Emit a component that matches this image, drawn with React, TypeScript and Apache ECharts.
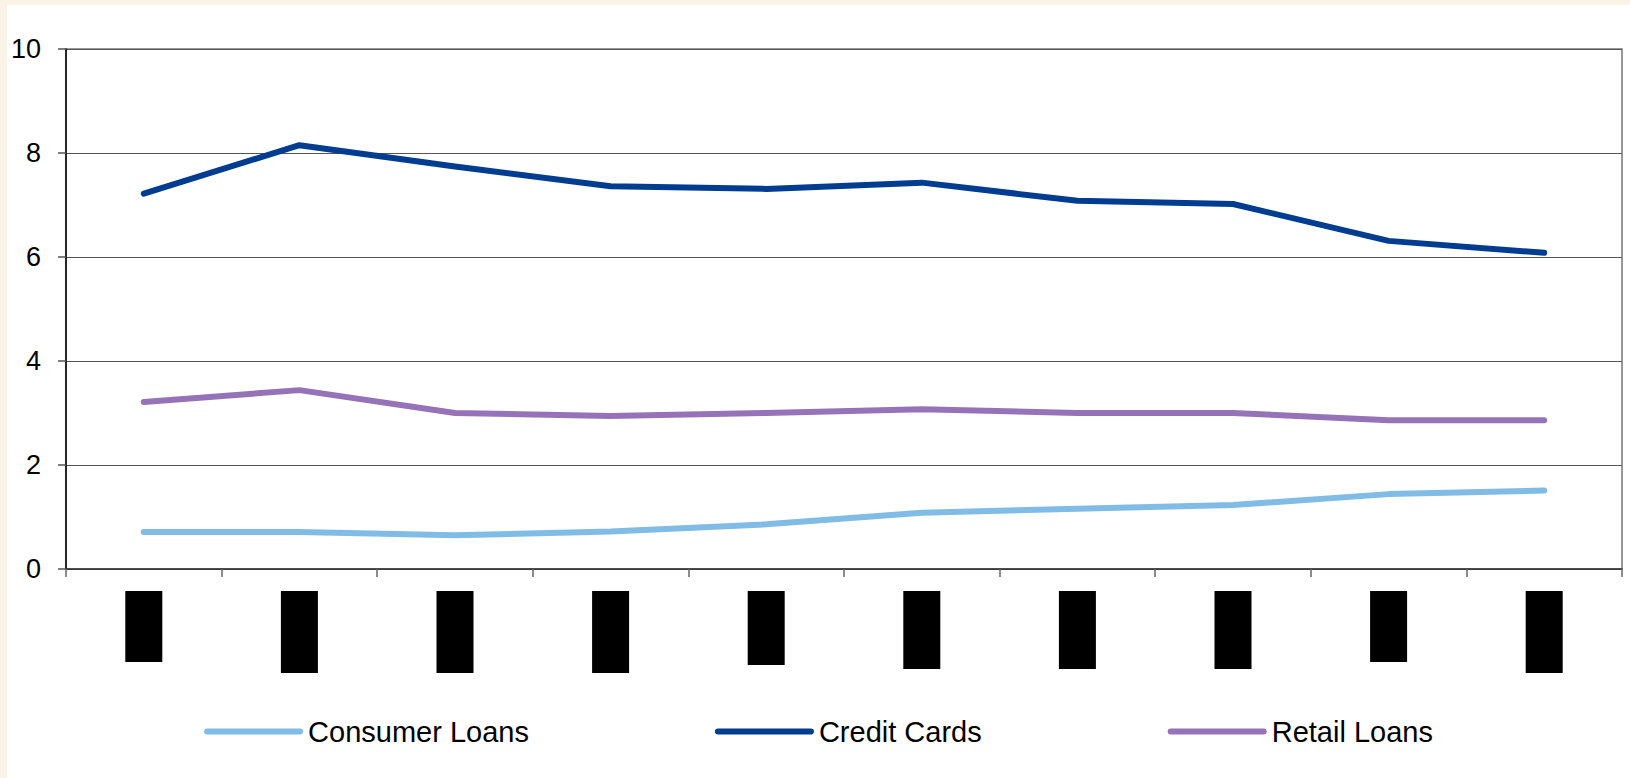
import React, { useEffect, useRef } from 'react';
import * as echarts from 'echarts';

// Category labels are redacted (black boxes) in the reference
const categories = ['1', '2', '3', '4', '5', '6', '7', '8', '9', '10'];
const consumerLoans = [0.71, 0.71, 0.65, 0.72, 0.86, 1.08, 1.16, 1.23, 1.44, 1.51];
const creditCards = [7.22, 8.15, 7.74, 7.36, 7.31, 7.43, 7.08, 7.02, 6.31, 6.08];
const retailLoans = [3.21, 3.44, 3.0, 2.94, 3.0, 3.07, 3.0, 3.0, 2.86, 2.86];
const seriesNames = ['Consumer Loans', 'Credit Cards', 'Retail Loans'];
const yMin = 0;
const yMax = 10;
const yInterval = 2;

// style: heights of the redaction boxes under each category
const labelBoxHeights = [71, 82, 82, 82, 74, 78, 78, 78, 71, 82];

const colors = ['#80BCE6', '#003D91', '#9673B9'];
const FONT = '"Liberation Sans", Arial, sans-serif';

export default function App() {
  const ref = useRef<HTMLDivElement>(null);
  useEffect(() => {
    const chart = echarts.init(ref.current!, null, { renderer: 'svg' });
    const rich: Record<string, any> = {};
    labelBoxHeights.forEach((h) => {
      rich['h' + h] = { width: 37, height: h, backgroundColor: '#000', color: '#000', fontSize: 10 };
    });
    const values = [consumerLoans, creditCards, retailLoans];
    chart.setOption({
      animation: false,
      grid: {
        left: 59,
        right: 8,
        top: 44,
        bottom: 209,
        show: true,
        borderColor: '#777',
        borderWidth: 1.5,
      },
      legend: {
        data: seriesNames,
        left: 'center',
        top: 712,
        padding: 0,
        itemGap: 186,
        itemWidth: 99,
        itemHeight: 7,
        icon: 'path://M3,0L96,0A3,3,0,0,1,96,6L3,6A3,3,0,0,1,3,0Z',
        textStyle: { fontSize: 29, color: '#000', fontFamily: FONT },
      },
      xAxis: {
        type: 'category',
        data: categories,
        boundaryGap: true,
        axisLine: { show: true, lineStyle: { color: '#333', width: 1.5 } },
        axisTick: { show: true, length: 8, interval: 0, lineStyle: { color: '#666', width: 1.5 } },
        axisLabel: {
          interval: 0,
          margin: 22,
          formatter: (_v: string, i: number) => `{h${labelBoxHeights[i]}| }`,
          rich,
        },
        splitLine: { show: false },
      },
      yAxis: {
        type: 'value',
        min: yMin,
        max: yMax,
        interval: yInterval,
        axisLine: { show: true, lineStyle: { color: '#000', width: 1.5 } },
        axisTick: { show: true, length: 8, lineStyle: { color: '#555', width: 1.5 } },
        axisLabel: { fontSize: 27, color: '#000', margin: 25, fontFamily: FONT },
        splitLine: { show: true, lineStyle: { color: '#555', width: 1 } },
      },
      series: seriesNames.map((name, i) => ({
        name,
        type: 'line',
        data: values[i],
        symbol: 'none',
        color: colors[i],
        lineStyle: { width: 6, color: colors[i], cap: 'round', join: 'round' },
      })),
    });
    return () => chart.dispose();
  }, []);
  return (
    <div style={{ position: 'fixed', left: 0, top: 0, width: 1630, height: 778, background: '#FAF3E6' }}>
      <div
        ref={ref}
        style={{ position: 'absolute', left: 7, top: 5, width: 1623, height: 773, background: '#fff' }}
      />
    </div>
  );
}
